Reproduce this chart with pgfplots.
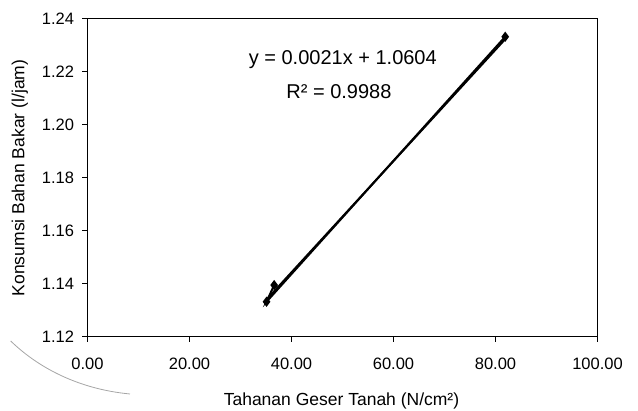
\documentclass[border=0pt]{standalone}
\usepackage{fontspec}
\setmainfont{Liberation Sans}
\usepackage{pgfplots}
\pgfplotsset{compat=1.18}

\begin{document}
\begin{tikzpicture}
\begin{axis}[
  scale only axis,
  width=510pt, height=318pt,
  xmin=0, xmax=100, ymin=1.12, ymax=1.24,
  xtick={0,20,...,100},
  ytick={1.12,1.14,1.16,1.18,1.20,1.22,1.24},
  xtick pos=left, ytick pos=left,
  tick align=outside,
  major tick length=5pt,
  axis line style={line width=1pt},
  tick style={black, line width=1pt},
  /pgf/number format/fixed,
  /pgf/number format/fixed zerofill,
  /pgf/number format/precision=2,
  /pgf/number format/assume math mode=true,
  ticklabel style={font=\fontsize{16.5pt}{18pt}\selectfont},
  xticklabel style={yshift=-12pt},
  yticklabel style={xshift=-5pt},
  label style={font=\fontsize{17.5pt}{20pt}\selectfont},
  xlabel={Tahanan Geser Tanah (N/cm²)},
  ylabel={Konsumsi Bahan Bakar (l/jam)},
  xlabel style={at={(axis description cs:0.498,-0.2013)}, anchor=center},
  ylabel style={at={(axis description cs:-0.1324,0.5)}, anchor=center},
  clip=false,
]
% data line with markers (in the order Excel joined them)
\addplot[black, line width=2pt, mark=diamond*, mark size=3.5pt] coordinates {
  (36.6,1.1396) (35.1,1.1333) (81.9,1.2333)
};
% linear trendline y = 0.0021x + 1.0604
\addplot[black, line width=2pt] coordinates {
  (35.1,1.13411) (81.9,1.23239)
};
\node[font=\fontsize{20pt}{22pt}\selectfont] at (axis cs:50.06,1.2248) {y = 0.0021x + 1.0604};
\node[font=\fontsize{20pt}{22pt}\selectfont] at (axis cs:49.3,1.2126) {R² = 0.9988};
\end{axis}
% scan artifact curve
\draw[gray!70, line width=0.8pt] (-76.8pt,-4pt) .. controls (-50pt,-30pt) and (-10pt,-52pt) .. (42.5pt,-57pt);
\pgfresetboundingbox
\useasboundingbox (-87.5pt,-74pt) rectangle (550.5pt,337pt);
\end{tikzpicture}
\end{document}
